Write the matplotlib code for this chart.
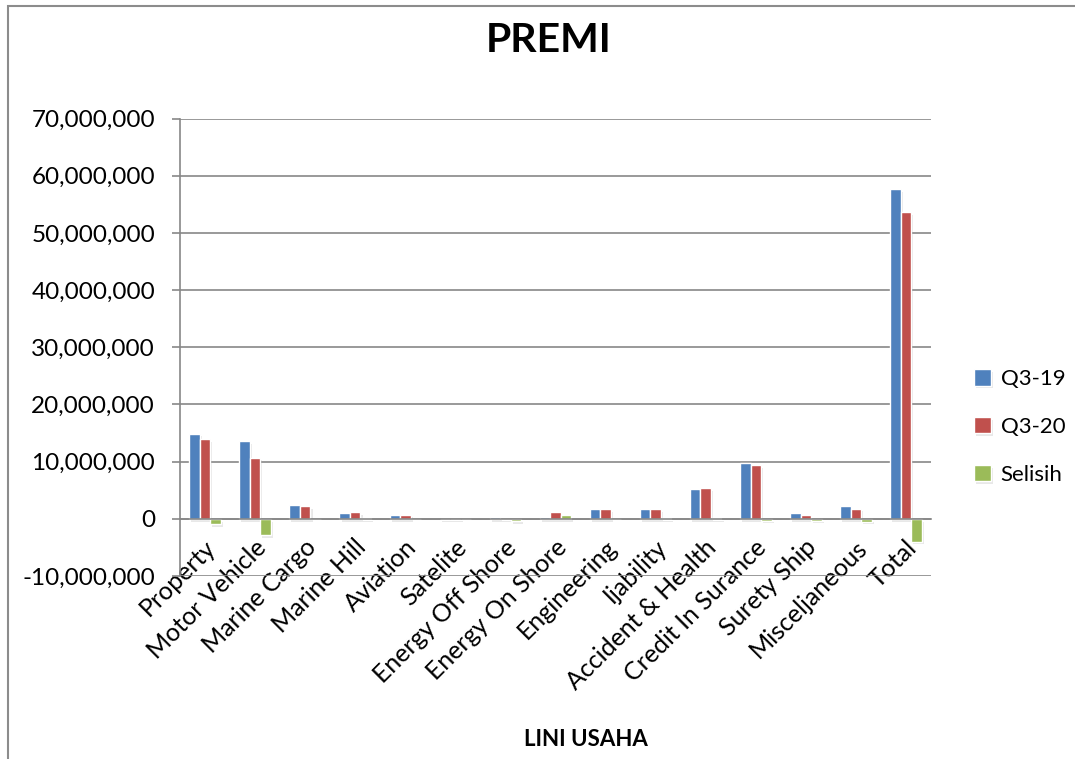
import matplotlib
matplotlib.use("Agg")
import matplotlib.pyplot as plt
import matplotlib.patheffects as pe
import matplotlib.transforms as mtransforms
from matplotlib.ticker import FuncFormatter, MultipleLocator
from matplotlib.patches import Rectangle
import numpy as np

plt.rcParams['font.family'] = ['Lato', 'DejaVu Sans']

categories = ["Property", "Motor Vehicle", "Marine Cargo", "Marine Hill", "Aviation",
              "Satelite", "Energy Off Shore", "Energy On Shore", "Engineering", "Ijability",
              "Accident & Health", "Credit In Surance", "Surety Ship", "Misceljaneous", "Total"]
q3_19 = [14_900_000, 13_640_000, 2_330_000, 980_000, 750_000, 30_000, 400_000, 280_000,
         1_630_000, 1_630_000, 5_170_000, 9_720_000, 930_000, 2_270_000, 57_700_000]
q3_20 = [14_000_000, 10_720_000, 2_200_000, 1_220_000, 750_000, 20_000, 20_000, 1_150_000,
         1_630_000, 1_750_000, 5_350_000, 9_370_000, 630_000, 1_800_000, 53_600_000]
selisih = [-900_000, -2_800_000, -100_000, 100_000, 0, 0, -400_000, 580_000,
           0, 100_000, 180_000, -300_000, -300_000, -470_000, -4_000_000]
series_names = ["Q3-19", "Q3-20", "Selisih"]
colors = ["#4F81BD", "#C0504D", "#9BBB59"]

W, H = 1075, 759
fig = plt.figure(figsize=(W / 100, H / 100), dpi=100)
ax = fig.add_axes([180 / W, 1 - 576 / H, (931 - 180) / W, (576 - 118.5) / H])

x = np.arange(len(categories))
bw = 0.21
shadow = [pe.SimplePatchShadow(offset=(1.5, -2), shadow_rgbFace=(0.5, 0.5, 0.5), alpha=0.18), pe.Normal()]
for k, (vals, c, name) in enumerate(zip([q3_19, q3_20, selisih], colors, series_names)):
    bars = ax.bar(x + (k - 1) * bw, vals, width=bw, color=c, edgecolor="white",
                  linewidth=1.0, label=name, zorder=3)
    for b, v in zip(bars, vals):
        if v != 0:
            b.set_path_effects(shadow)

ax.set_xlim(-0.5, len(categories) - 0.5)
ax.set_ylim(-10_000_000, 70_000_000)
ax.yaxis.set_major_locator(MultipleLocator(10_000_000))
ax.yaxis.set_major_formatter(FuncFormatter(lambda v, p: f"{int(v):,}"))

grid_c = "#878787"
ax.grid(axis="y", color=grid_c, linewidth=1.2, zorder=0)
ax.set_axisbelow(True)
for s in ["top", "right"]:
    ax.spines[s].set_visible(False)
ax.spines["left"].set_color(grid_c)
ax.spines["left"].set_linewidth(1.2)
ax.spines["bottom"].set_position(("data", 0))
ax.spines["bottom"].set_color(grid_c)
ax.spines["bottom"].set_linewidth(1.2)
ax.spines["bottom"].set_zorder(4)

ax.tick_params(axis="y", length=6, width=1.2, color=grid_c, pad=12, labelsize=17.5, direction="out")
ax.tick_params(axis="x", length=0, pad=12, labelsize=18)
ax.set_xticks(x)
ax.set_xticklabels(categories, rotation=45, ha="right", rotation_mode="anchor")
offset = mtransforms.ScaledTranslation(-1 / 100, 0, fig.dpi_scale_trans)
for lbl in ax.get_xticklabels():
    lbl.set_transform(lbl.get_transform() + offset)

fig.text(549 / W, 1 - 41 / H, "PREMI", ha="center", va="center", fontsize=29.5, fontweight="bold")
fig.text(586 / W, 1 - 739 / H, "LINI USAHA", ha="center", va="center", fontsize=16, fontweight="bold")

leg = ax.legend(loc="center left", bbox_to_anchor=(954 / W, 1 - 427 / H),
                bbox_transform=fig.transFigure, frameon=False, fontsize=16,
                handlelength=0.75, handleheight=0.75, handletextpad=0.45, labelspacing=1.25)

fig.patches.append(Rectangle((8 / W, -0.05), 1.2, 1 - 6 / H + 0.05, transform=fig.transFigure,
                             fill=False, edgecolor="#8c8c8c", linewidth=1.5))

fig.savefig("out.png", dpi=100)
